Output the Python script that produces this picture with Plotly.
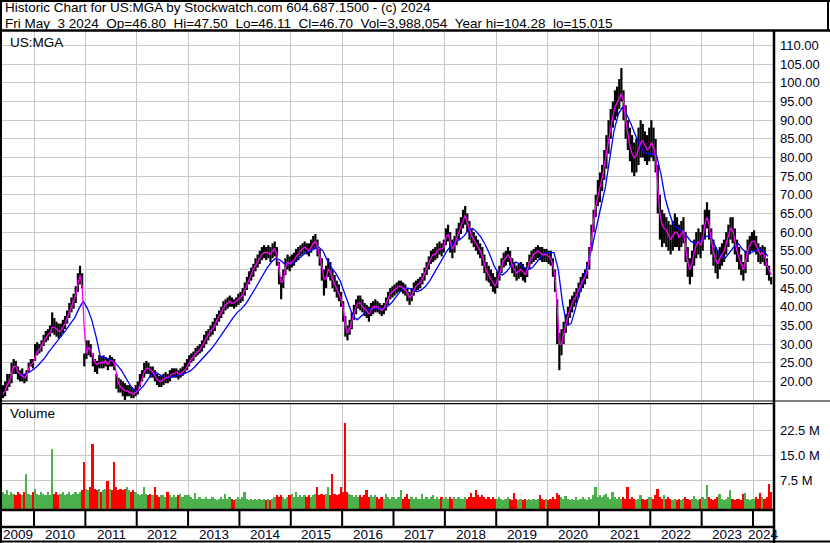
import plotly.graph_objects as go

W, H = 830, 543

# ---------------- data ----------------
# semi-monthly periods, first period = second half of May 2009
START_HALF_MONTH = 9          # index of first half-month within 2009 (0 = Jan 1-15)
FIRST_YEAR = 2009

HIGH = (
    [19, 20, 22, 22, 25, 26, 25.5, 24, 23, 23.5, 22, 23, 25, 26, 26]                                          # 2009
    + [30, 30.5, 30, 31, 32.5, 33.5, 34, 35, 38.5, 37, 36, 35.5, 35.5, 36.5, 37.5, 39, 41, 42.5, 43.5, 45.5, 49, 51, 49, 27.5]  # 2010
    + [31, 31, 30, 27.5, 26, 25.5, 27, 26.5, 27, 26.5, 26, 27, 26.5, 26, 22, 21, 20.5, 20, 19.5, 19, 19, 18.5, 18, 19]          # 2011
    + [20, 22, 23, 25, 25.5, 25, 24, 24, 23, 22, 21.5, 21.5, 22, 22.5, 22, 23, 23.5, 23.5, 23.5, 23, 23.5, 24, 25, 26]          # 2012
    + [27, 27.5, 28, 29, 29.5, 30, 31, 32.5, 33.5, 34, 35, 36, 37, 38, 39, 40, 41.5, 42, 42.5, 43, 42.5, 42, 42.5, 43.5]        # 2013
    + [44, 45, 46.5, 48, 49.5, 50.5, 51.5, 53, 54, 55, 56, 56.5, 56, 56.5, 56, 57, 57.5, 56, 52, 48, 50, 53, 54, 53.5]         # 2014
    + [54, 54.5, 55.5, 56, 56.5, 57, 57.5, 57, 57, 58, 59, 59.5, 58, 55.5, 53, 50, 51, 53, 52, 50, 48.5, 47, 46, 44]           # 2015
    + [41.5, 37.5, 35, 36.5, 38.5, 40.5, 42, 43, 43, 42, 41, 40.5, 40, 41, 41.5, 42, 41.5, 41, 40.5, 41, 42.5, 44, 45, 45.5]   # 2016
    + [46, 46.5, 47, 47, 46.5, 46, 45, 44, 45, 46.5, 47, 47.5, 48, 49, 50.5, 52, 53.5, 55, 55.5, 56, 57, 57.5, 57, 58]         # 2017
    + [61, 62, 60, 58, 59, 61, 62.5, 64, 66, 67, 65, 63, 61, 60, 59, 58, 57, 56, 54, 52, 51, 50, 49, 48]                       # 2018
    + [49.5, 51, 53, 54.5, 55, 56, 55, 53, 52, 51, 51.5, 52, 51.5, 50.5, 52, 54, 55, 55.5, 56, 56.5, 56, 56, 55.5, 55.5]       # 2019
    + [55, 55, 53, 50, 42, 33, 34, 36, 38, 40, 42, 43, 44, 45, 46.5, 48, 49, 50, 52, 56, 62, 66, 70, 74]                       # 2020
    + [76, 78, 82, 86, 90, 93, 95, 98, 99, 101, 104, 98, 94, 90, 88, 86, 84, 85, 88, 90, 89, 87, 86, 88]                        # 2021
    + [90, 88, 85, 78, 70, 66, 65, 64, 63, 62, 63, 65, 64, 62, 63, 64, 60, 56, 53, 55, 58, 60, 61, 60]                          # 2022
    + [62, 66, 68, 66, 61, 58, 56, 55, 56, 57, 58, 60, 62, 64, 64, 61, 58, 56, 54, 52, 55, 58, 59, 60]                          # 2023
    + [60.5, 59, 57, 56, 56.5, 56, 53, 51, 48]                                                                                  # 2024
)

LOW = (
    [15.5, 16, 17.5, 18.5, 19.5, 22, 22, 20.5, 20, 20, 19.5, 20, 22.5, 24, 23.5]
    + [25.5, 27, 27.5, 28, 29.5, 30.5, 31, 32, 33, 32.5, 32, 31.5, 32, 33, 34, 35.5, 37, 38.5, 39.5, 41, 44, 46, 45, 24]
    + [26, 27, 26.5, 24, 22.5, 22, 23.5, 23.5, 23.5, 24, 23, 24, 24, 23, 18, 17, 17, 16, 15, 16, 16, 15.5, 15.5, 16]
    + [16.5, 18.5, 20, 21, 22, 22, 21, 21, 20, 19, 18.5, 18.5, 19, 19.5, 19.5, 20, 21, 21, 21, 20.5, 21, 21.5, 22, 23]
    + [24, 25, 25.5, 26.5, 27, 27.5, 28, 29, 30, 31, 32, 32.5, 33.5, 35, 36, 37, 38, 39, 39.5, 40, 40, 39.5, 40, 40.5]
    + [41, 41.5, 43, 44.5, 46, 47, 48, 49.5, 50.5, 51.5, 52.5, 53, 52.5, 53, 52, 53, 53.5, 51, 46, 42, 45, 48.5, 50, 49.5]
    + [50.5, 51, 52, 52.5, 53.5, 54, 54.5, 54, 53.5, 54.5, 55.5, 55.5, 53.5, 51, 47, 43, 45, 48, 47, 45, 44, 42.5, 41.5, 40]
    + [36, 32, 31, 32.5, 34, 36.5, 38, 39.5, 39, 38.5, 37.5, 37, 36, 37.5, 38, 38.5, 38.5, 38, 37.5, 38, 39, 40.5, 42, 42.5]
    + [43, 43.5, 44, 44, 43.5, 43, 41.5, 40.5, 41.5, 43, 44, 44.5, 45, 46, 47, 48.5, 50, 51.5, 52, 52.5, 53, 54, 53.5, 54.5]
    + [56.5, 57.5, 54.5, 53, 54.5, 56.5, 58, 59.5, 61, 62, 60, 58, 57, 56, 55, 54, 53, 51, 49, 47, 46.5, 45.5, 44, 43.5]
    + [45, 47, 49, 50.5, 51, 52, 51, 49, 48, 47, 47.5, 48, 47, 46.5, 48, 50, 51.5, 52, 52.5, 53, 52.5, 52, 52, 52]
    + [51.5, 51, 48, 44, 30, 23, 27, 30, 33, 35, 37, 38.5, 40, 41, 42.5, 44, 45, 46, 47.5, 50, 55, 60, 64, 67]
    + [68, 71, 74, 77, 81, 85, 88, 90, 91, 93, 95, 90, 85, 82, 79, 76, 75, 76, 78, 80, 80, 79, 78, 79]
    + [80, 79, 76, 65, 58, 56, 57, 56, 55, 54, 55, 56, 56, 55, 56, 57, 52, 48, 46, 48, 51, 53, 54, 53]
    + [55, 58, 61, 58, 54, 51, 49, 47.5, 50, 51, 52, 54, 56, 58, 57, 54, 52, 50, 48.5, 47, 49, 52, 54, 55]
    + [55, 54, 52, 51.5, 52, 51, 48.5, 47, 46]
)

MA_FAST = (   # magenta average, semi-monthly
    [16.5, 17.5, 19, 20, 22, 24, 24, 22.5, 22, 21.5, 21, 21.5, 23.5, 24.5, 25]
    + [26.5, 28, 28.5, 29.5, 30.5, 31.5, 32.5, 33, 34.5, 34.5, 34, 33.5, 33.5, 34.5, 35.5, 37, 38.5, 40, 41.5, 43, 46, 48.5, 45.5, 34]
    + [27.5, 29, 28.5, 26.5, 25, 24.5, 25, 25, 25, 25.5, 24.5, 25.5, 25.5, 25, 22.5, 19.5, 18.5, 18, 17.5, 17.5, 17, 17, 16.5, 17]
    + [17.5, 19, 21, 22.5, 23.5, 23.5, 23, 22.5, 21.5, 20.5, 20, 20, 20.5, 21, 21, 21.5, 22, 22, 22.5, 22, 22, 22.5, 23, 24]
    + [25, 26, 26.5, 27.5, 28, 28.5, 29.5, 30.5, 31.5, 32.5, 33.5, 34, 35, 36.5, 37.5, 38.5, 39.5, 40.5, 41, 41.5, 41, 41, 41.5, 42]
    + [42.5, 43, 44.5, 46, 47.5, 48.5, 50, 51, 52, 53, 54, 54.5, 54.5, 54.5, 54, 55, 55.5, 54, 50, 46.5, 47, 50.5, 52, 51.5]
    + [52, 52.5, 53.5, 54, 55, 55.5, 56, 55.5, 55, 56, 57, 57.5, 56, 53.5, 51, 47.5, 47.5, 50, 49.5, 47.5, 46, 45, 43.5, 42]
    + [39.5, 35, 33, 34, 36, 38, 40, 41, 41, 40, 39.5, 39, 38, 39, 40, 40, 40, 39.5, 39, 39.5, 41, 42, 43.5, 44]
    + [44.5, 45, 45.5, 45.5, 45, 44.5, 43.5, 42.5, 43, 44.5, 45.5, 46, 46.5, 47.5, 49, 50, 51.5, 53, 54, 54, 55, 55.5, 55.5, 56]
    + [58.5, 59.5, 57.5, 55.5, 56.5, 58.5, 60, 61.5, 63, 64.5, 62.5, 60.5, 59, 58, 57, 56, 55, 53.5, 51.5, 49.5, 48.5, 47.5, 46.5, 45.5]
    + [47, 49, 51, 52.5, 53, 54, 53, 51, 50, 49, 49.5, 50, 49.5, 48.5, 50, 52, 53, 54, 54.5, 55, 54.5, 54, 54, 54]
    + [53.5, 53, 51, 48, 40, 30, 30, 33, 35, 37.5, 39.5, 41, 42, 43, 44.5, 46, 47, 48, 49.5, 53, 58.5, 63, 67, 70]
    + [72, 74.5, 78, 81, 85, 88.5, 91, 93.5, 95, 96, 97, 95, 90, 86, 83, 81, 80, 80.5, 82, 84, 84.5, 83, 82, 82.5]
    + [84, 83, 80, 72, 65, 62, 61, 60.5, 59, 58, 59, 60, 60, 58.5, 59.5, 60.5, 56, 52, 50, 51.5, 54.5, 56.5, 57.5, 56.5]
    + [58, 62, 64, 62, 58, 54.5, 52.5, 51.5, 53, 54, 55, 57, 59, 61, 60.5, 57.5, 55, 53, 51.5, 50, 52, 55, 56.5, 57.5]
    + [57.5, 56.5, 55, 54, 54.5, 53.5, 51, 50, 48.5]
)

# blue average, monthly, first month = Sep 2009
SLOW_START_MONTH = 8   # 0 = Jan
MA_SLOW = (
    [21.4, 21.8, 22.2, 22.9]
    + [23.8, 25, 26.3, 28, 29.4, 31, 32.3, 33.8, 35.5, 37, 39.5, 41.5]
    + [39.5, 36.5, 32, 26.7, 26.4, 26, 25.3, 24.3, 22.8, 20.7, 18.9, 17.5]
    + [17.6, 18.7, 20.5, 22, 22.4, 21.8, 21, 21, 21.2, 21.4, 21.8, 22.3]
    + [22.8, 23.8, 25, 26.2, 27.5, 28.8, 30.3, 32, 33.8, 35.5, 37, 38.5]
    + [39.5, 40.8, 42.5, 44.5, 46.5, 48.5, 50.5, 52, 53, 52.5, 51.5, 51.5]
    + [51.5, 52.5, 53.5, 54.5, 55, 55.5, 56, 55, 52.5, 50.5, 49, 47]
    + [44, 40.5, 37.5, 36.5, 37.5, 38.5, 39.5, 39.5, 39.5, 39.5, 40, 41]
    + [42.5, 44, 45, 45, 44.5, 44, 44.5, 45.5, 47, 49, 51, 53]
    + [55, 56.5, 57.5, 58, 59, 60.5, 61, 60, 58.5, 56.5, 54, 51]
    + [49, 48.5, 49.5, 51, 52, 51.5, 50.5, 50, 50.5, 52, 53.5, 54.5]
    + [54.5, 54.5, 50, 41, 35, 35.5, 39.5, 43.5, 47.5, 52, 56.5, 62]
    + [67, 72, 79, 87, 91.5, 93.5, 91.5, 89, 86, 83.5, 81.5, 81]
    + [81, 80.5, 75.5, 69, 65, 61.7, 61, 60.2, 59, 57.5, 57, 57.5]
    + [58.5, 59, 58, 55.5, 53.5, 53, 54.5, 56, 57, 55.5, 54.5, 54.5]
    + [55, 55.5, 55, 53.5]
)

VOLUME_M = (   # millions of shares, semi-monthly
    [4, 3.5, 4.5, 3, 4, 3.5, 3, 4, 3.5, 3, 4, 9.4, 3.5, 3, 4]
    + [5, 3.5, 3, 4, 3.5, 3, 4, 3, 16.8, 3.5, 4, 3, 3.5, 4, 3, 3.5, 4, 3, 3.5, 4, 3.5, 4, 4.5, 13]
    + [5, 4.5, 5.5, 18.5, 5, 4.5, 5, 4, 4.5, 5, 7.4, 5, 4.5, 13, 5.5, 4.5, 5, 4.5, 5, 5.5, 4.5, 4, 4.5, 4]
    + [3.5, 3, 3.5, 5.6, 3.5, 3, 3.5, 3, 5.6, 3, 2.5, 3, 3, 2.5, 4, 3, 2.5, 3, 2.5, 3, 3.5, 2.5, 3, 3]
    + [3, 2.5, 2, 3.8, 2, 2.5, 2, 2, 2.5, 2, 2, 2.5, 2, 1.5, 2, 2.5, 2, 3.5, 2, 2.5, 2, 1.5, 2, 2.5]
    + [2, 2.5, 4, 2, 1.5, 2, 1.5, 2, 1.5, 2, 1.5, 2, 1.5, 2, 1.5, 2, 2.5, 3, 2.5, 3, 2.5, 2, 2.5, 3]
    + [3.5, 2.5, 4.1, 2.5, 3, 2.5, 3, 2.5, 3, 2.5, 3, 3.5, 5.6, 3, 3.5, 3, 3.5, 5.6, 3, 9.4, 3.5, 3, 3.5, 5.6]
    + [4, 24.6, 4, 3.5, 3, 2.5, 3, 2.5, 3, 2.5, 3, 4.7, 2.5, 3, 2.5, 3, 2.5, 2, 2.5, 2, 3.3, 2.5, 2, 2.5]
    + [2.5, 2, 2.5, 4.5, 2, 2.5, 3.5, 2, 2.5, 2, 2.5, 2, 2, 3.3, 2, 2.5, 2, 2.5, 3, 2, 2.5, 2, 2.5, 2]
    + [2.5, 2, 2.5, 2, 2.5, 2, 2.5, 2, 2, 2.5, 2, 2.5, 3.8, 2.5, 4.5, 3, 2.5, 3, 2.5, 2, 2.5, 2, 2.5, 2]
    + [2, 2.5, 2, 1.5, 2, 2.5, 2, 1.5, 3.8, 2, 1.5, 2, 1.5, 2, 1.5, 2, 1.5, 2, 1.5, 2, 3, 2, 1.5, 2]
    + [1.5, 2, 2.5, 2, 3.8, 3, 2.5, 2, 2.9, 2, 1.5, 2, 1.5, 2.5, 1.5, 2, 2.5, 2, 1.5, 2.5, 2, 3, 5.6, 2.5]
    + [3, 2.5, 3, 3.3, 2.5, 2, 4, 2.5, 2, 2.5, 2, 2.5, 2, 5.6, 2, 2.5, 2, 1.5, 2, 3, 2, 1.5, 2, 2.5]
    + [2.5, 2, 3, 5, 2.5, 2, 3, 2, 2.5, 2, 1.5, 2, 1.5, 2, 1.5, 2, 2.5, 2, 1.5, 2, 2.9, 2, 1.5, 2]
    + [2.5, 2, 6.2, 2.5, 2, 1.5, 2, 2.5, 3.5, 2, 1.5, 2, 2.5, 4.5, 2, 1.5, 2, 2, 1.5, 3.3, 3.8, 2, 1.5, 2]
    + [2, 2.5, 2, 3.8, 2.5, 2, 2.5, 6.5, 4]
)

YEARS = list(range(2009, 2025))
PRICE_TICKS = list(range(20, 115, 5))
VOLUME_TICKS = [7.5, 15.0, 22.5]

HEADER_1 = "Historic Chart for US:MGA by Stockwatch.com 604.687.1500 - (c) 2024"
HEADER_2 = ("Fri May  3 2024  Op=46.80  Hi=47.50  Lo=46.11  Cl=46.70  "
            "Vol=3,988,054  Year hi=104.28  lo=15.015")
SYMBOL = "US:MGA"

# ---------------- derived positions (decimal years) ----------------
n = len(HIGH)
assert len(LOW) == n and len(MA_FAST) == n and len(VOLUME_M) == n, (len(HIGH), len(LOW), len(MA_FAST), len(VOLUME_M))
T = [FIRST_YEAR + (START_HALF_MONTH + i + 0.5) / 24 for i in range(n)]
T_SLOW = [FIRST_YEAR + (SLOW_START_MONTH + j + 0.5) / 12 for j in range(len(MA_SLOW))]

# pixel layout helpers
def px(x):
    return x / W

def py(y):
    return 1 - y / H

X_LEFT, X_RIGHT = 2, 773
PX_PER_YEAR = (753 - 34) / 14.0
X0 = 2010 - (34 - X_LEFT) / PX_PER_YEAR
X1 = 2024 + (X_RIGHT - 753) / PX_PER_YEAR

FONT = "Liberation Sans, Arial, Helvetica, sans-serif"
GRID = "#c8c8c8"
GREEN = "#4cb04c"
RED = "#ff0000"

fig = go.Figure()

# price bars (low-high)
bx, by = [], []
for t, lo, hi in zip(T, LOW, HIGH):
    bx += [t, t, None]
    by += [lo, hi, None]
fig.add_trace(go.Scatter(x=bx, y=by, mode="lines", line=dict(color="black", width=2.2),
                         hoverinfo="skip", showlegend=False, xaxis="x", yaxis="y"))

fig.add_trace(go.Scatter(x=T_SLOW, y=MA_SLOW, mode="lines", line=dict(color="#0000ff", width=1.3),
                         showlegend=False, xaxis="x", yaxis="y"))
fig.add_trace(go.Scatter(x=T, y=MA_FAST, mode="lines", line=dict(color="#ff00ff", width=1.3),
                         showlegend=False, xaxis="x", yaxis="y"))

# volume
VOL_BASE = -1.05
mid = [(h + l) / 2 for h, l in zip(HIGH, LOW)]
colors = [GREEN if i == 0 or mid[i] >= mid[i - 1] else RED for i in range(n)]
fig.add_trace(go.Bar(x=T, y=[v - VOL_BASE for v in VOLUME_M], base=VOL_BASE,
                     width=0.8 / 24, marker=dict(color=colors, line=dict(width=0)),
                     showlegend=False, xaxis="x2", yaxis="y2"))

xcommon = dict(range=[X0, X1], domain=[px(X_LEFT), px(X_RIGHT)], showgrid=True, gridcolor=GRID,
               gridwidth=1, tick0=2010, dtick=1, showticklabels=False, ticks="",
               zeroline=False, showline=False, fixedrange=True)

fig.update_layout(
    width=W, height=H,
    margin=dict(l=0, r=0, t=0, b=0),
    paper_bgcolor="white", plot_bgcolor="white",
    showlegend=False, bargap=0,
    font=dict(family=FONT, size=13, color="black"),
    xaxis=dict(anchor="y", **xcommon),
    xaxis2=dict(anchor="y2", matches="x", **xcommon),
    yaxis=dict(domain=[py(400), py(31)], range=[15.015, 113.9], side="right", anchor="x",
               tickvals=PRICE_TICKS, ticktext=[f"{v:.2f}" for v in PRICE_TICKS],
               showgrid=True, gridcolor=GRID, gridwidth=1, zeroline=False, showline=False,
               ticks="", ticklabelstandoff=6, tickfont=dict(size=13, color="#000020")),
    yaxis2=dict(domain=[py(509), py(403)], range=[VOL_BASE, 30.6], side="right", anchor="x2",
                tickvals=VOLUME_TICKS, ticktext=[f"{v:.1f} M" for v in VOLUME_TICKS],
                showgrid=True, gridcolor=GRID, gridwidth=1, zeroline=False, showline=False,
                ticks="", ticklabelstandoff=6, tickfont=dict(size=13, color="#000020")),
)

shapes = []
def hline(y, x0, x1, w):
    shapes.append(dict(type="line", xref="paper", yref="paper", x0=px(x0), x1=px(x1),
                       y0=py(y), y1=py(y), line=dict(color="black", width=w)))

def vline(x, y0, y1, w):
    shapes.append(dict(type="line", xref="paper", yref="paper", x0=px(x), x1=px(x),
                       y0=py(y0), y1=py(y1), line=dict(color="black", width=w)))

hline(1, 0, W, 2)          # top border
vline(1, 0, H, 2)          # left border
vline(828, 0, 31, 2)       # right border of header
hline(30.5, 0, W, 2.5)     # header bottom
vline(774, 31, H, 2.5)     # axis separator
hline(401, 0, 774, 1.2)    # double line between panels
hline(403.6, 0, 774, 1.2)
hline(401, 774, W, 1.2)
hline(510, 0, 774, 2.5)    # volume bottom
hline(527, 0, 774, 2.5)    # year row
hline(541.5, 0, W, 2)      # bottom border
for yr in YEARS[1:]:
    shapes.append(dict(type="line", xref="x", yref="paper", x0=yr, x1=yr, y0=py(510), y1=py(527),
                       line=dict(color="black", width=2)))
fig.update_layout(shapes=shapes)

ann = []
NB = "\u00a0"
ann.append(dict(text=HEADER_1, x=px(3), y=py(7.5), xref="paper", yref="paper", xanchor="left",
                yanchor="middle", showarrow=False, font=dict(size=13.5, color="black")))
ann.append(dict(text=HEADER_2.replace("  ", NB + NB), x=px(3), y=py(23.5), xref="paper", yref="paper",
                xanchor="left", yanchor="middle", showarrow=False, font=dict(size=13.5, color="black")))
ann.append(dict(text=SYMBOL, x=px(8), y=py(42.5), xref="paper", yref="paper", xanchor="left",
                yanchor="middle", showarrow=False, font=dict(size=13.5, color="black")))
ann.append(dict(text="Volume", x=px(8), y=py(413.5), xref="paper", yref="paper", xanchor="left",
                yanchor="middle", showarrow=False, font=dict(size=13.5, color="black")))
for yr in YEARS:
    a = max(yr, X0)
    b = min(yr + 1, X1)
    ann.append(dict(text=str(yr), x=(a + b) / 2, y=py(534.5), xref="x", yref="paper",
                    xanchor="center", yanchor="middle", showarrow=False,
                    font=dict(size=13.5, color="#000020")))
fig.update_layout(annotations=ann)

fig.write_html("out.html", config={"displayModeBar": False},
               post_script="document.body.style.margin='0';document.body.style.padding='0';")
